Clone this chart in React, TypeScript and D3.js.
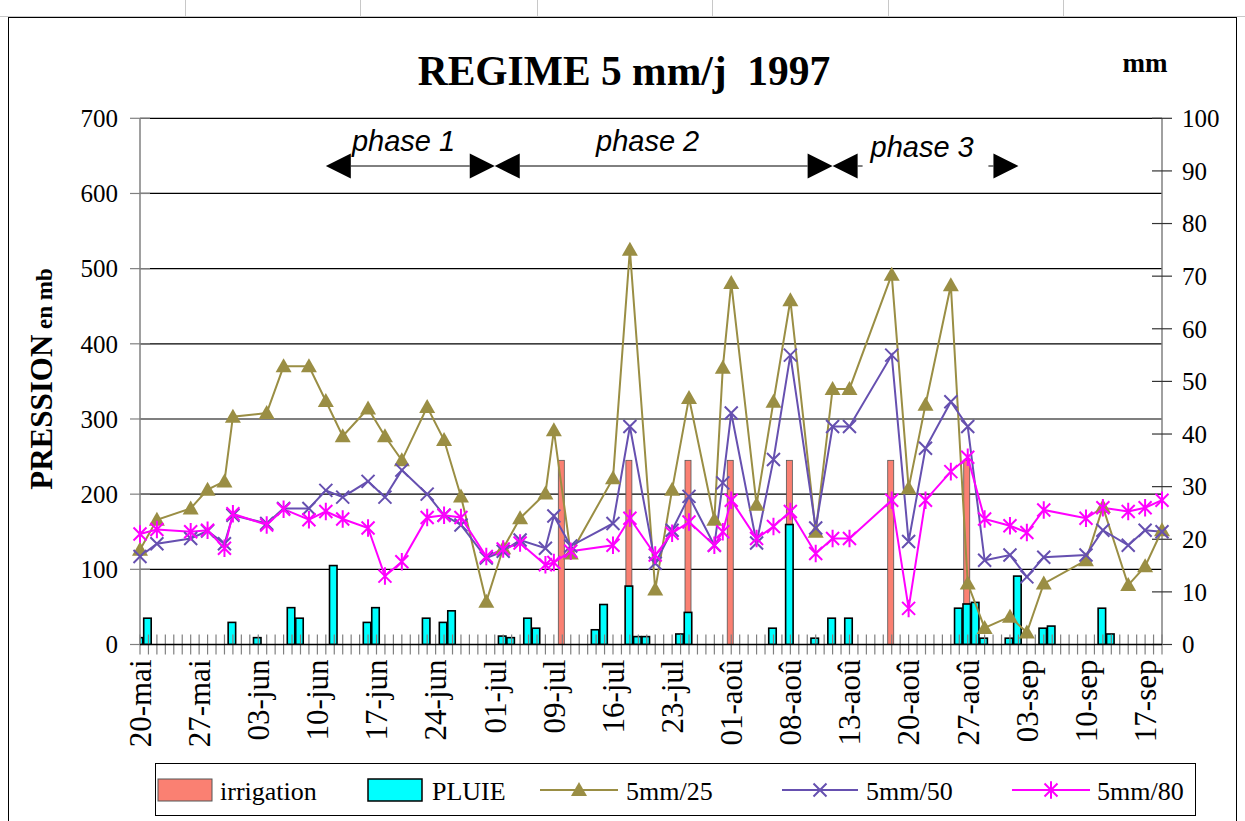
import React from "react";
import * as d3 from "d3";

// ---------- data ----------
const categoryCount = 122;
const labelEvery = 7;
const tickLabels = [
  "20-mai", "27-mai", "03-jun", "10-jun", "17-jun", "24-jun", "01-jul", "09-jul", "16-jul",
  "23-jul", "01-aoû", "08-aoû", "13-aoû", "20-aoû", "27-aoû", "03-sep", "10-sep", "17-sep",
];
const pressureTicks = [0, 100, 200, 300, 400, 500, 600, 700];
const mmTicks = [0, 10, 20, 30, 40, 50, 60, 70, 80, 90, 100];

// [category index, value]
const irrigation: [number, number][] = [
  [50, 35], [58, 35], [65, 35], [70, 35], [77, 35], [89, 35], [98, 35],
];
const pluie: [number, number][] = [
  [0, 1.3], [1, 5], [11, 4.2], [14, 1.3], [18, 7], [19, 5], [23, 15], [27, 4.2], [28, 7],
  [34, 5], [36, 4.2], [37, 6.4], [43, 1.6], [44, 1.3], [46, 5], [47, 3.1], [54, 2.8],
  [55, 7.6], [58, 11.1], [59, 1.5], [60, 1.5], [64, 2], [65, 6.1], [75, 3.1], [77, 22.8],
  [80, 1.2], [82, 5], [84, 5], [97, 6.9], [98, 7.7], [99, 8], [100, 1.2], [103, 1.2],
  [104, 13], [107, 3.1], [108, 3.5], [114, 6.9], [115, 2],
];
const s25: [number, number][] = [
  [0, 126], [2, 166], [6, 181], [8, 206], [10, 217], [11, 303], [15, 308], [17, 370],
  [20, 370], [22, 324], [24, 277], [27, 314], [29, 277], [31, 245], [34, 316], [36, 272],
  [38, 197], [41, 57], [43, 128], [45, 168], [48, 201], [49, 285], [51, 121], [56, 221],
  [58, 525], [61, 73], [63, 206], [65, 328], [68, 166], [69, 368], [70, 481], [73, 186],
  [75, 323], [77, 458], [80, 150], [82, 340], [84, 340], [89, 492], [91, 208], [93, 319],
  [96, 478], [98, 81], [100, 22], [103, 37], [105, 16], [107, 81], [112, 112], [114, 183],
  [117, 79], [119, 104], [121, 152],
];
const s50: [number, number][] = [
  [0, 117], [2, 134], [6, 141], [8, 151], [10, 134], [11, 172], [15, 161], [17, 181],
  [20, 181], [22, 205], [24, 196], [27, 217], [29, 196], [31, 232], [34, 200], [36, 172],
  [38, 159], [41, 115], [43, 124], [45, 139], [48, 128], [49, 171], [51, 131], [56, 161],
  [58, 290], [61, 108], [63, 152], [65, 197], [68, 132], [69, 215], [70, 308], [73, 135],
  [75, 246], [77, 385], [80, 155], [82, 290], [84, 290], [89, 385], [91, 137], [93, 261],
  [96, 323], [98, 290], [100, 112], [103, 119], [105, 90], [107, 116], [112, 119],
  [114, 152], [117, 132], [119, 152], [121, 150],
];
const s80: [number, number][] = [
  [0, 147], [2, 153], [6, 150], [8, 152], [10, 128], [11, 174], [15, 159], [17, 180],
  [20, 166], [22, 177], [24, 167], [27, 155], [29, 91], [31, 110], [34, 169], [36, 172],
  [38, 169], [41, 117], [43, 127], [45, 135], [48, 106], [49, 109], [51, 124], [56, 132],
  [58, 168], [61, 119], [63, 148], [65, 163], [68, 132], [69, 150], [70, 192], [73, 141],
  [75, 157], [77, 177], [80, 121], [82, 141], [84, 141], [89, 192], [91, 48], [93, 192],
  [96, 230], [98, 249], [100, 167], [103, 158], [105, 149], [107, 179], [112, 168],
  [114, 182], [117, 177], [119, 182], [121, 192],
];
const phases = [
  { label: "phase 1", from: 22, to: 42, textAt: 31.2, stub: false },
  { label: "phase 2", from: 42, to: 82, textAt: 60.1, stub: false },
  { label: "phase 3", from: 82, to: 104, textAt: 92.6, stub: true },
];

// ---------- style ----------
const C25 = "#9A8E44";
const C50 = "#6650B0";
const C80 = "#FF00FF";
const CIRR = "#FA8072";
const CPLUIE = "#00FFFF";
const SERIF = "'Liberation Serif', 'Times New Roman', serif";
const SANS = "'Liberation Sans', Arial, sans-serif";

function Triangle({ cx, cy, s = 8 }: { cx: number; cy: number; s?: number }) {
  return (
    <path
      d={`M${cx},${cy - s} L${cx + s},${cy + s * 0.75} L${cx - s},${cy + s * 0.75} Z`}
      fill={C25}
    />
  );
}
function Cross({ cx, cy, s = 6.5 }: { cx: number; cy: number; s?: number }) {
  return (
    <path
      d={`M${cx - s},${cy - s} L${cx + s},${cy + s} M${cx - s},${cy + s} L${cx + s},${cy - s}`}
      stroke={C50}
      strokeWidth={2}
    />
  );
}
function Star({ cx, cy, s = 6.5 }: { cx: number; cy: number; s?: number }) {
  return (
    <path
      d={`M${cx - s},${cy - s} L${cx + s},${cy + s} M${cx - s},${cy + s} L${cx + s},${cy - s} M${cx},${cy - s * 1.35} L${cx},${cy + s * 1.35}`}
      stroke={C80}
      strokeWidth={2}
    />
  );
}

export default function App() {
  const W = 1245;
  const H = 821;
  const left = 140;
  const right = 1162;
  const top = 118.3;
  const bottom = 644.5;

  const x = d3.scaleLinear().domain([0, categoryCount - 1]).range([left, right]);
  const yP = d3.scaleLinear().domain([0, 700]).range([bottom, top]);
  const yM = d3.scaleLinear().domain([0, 100]).range([bottom, top]);
  const line = d3
    .line<[number, number]>()
    .x((d) => x(d[0]))
    .y((d) => yP(d[1]));

  const barOffset = -1;
  const wPluie = 7.5;
  const wIrr = 6;
  const arrowY = 166;
  const head = 25;
  const hh = 12.5;

  return (
    <svg
      width={W}
      height={H}
      style={{ position: "absolute", left: 0, top: 0, background: "#fff" }}
      fontFamily={SERIF}
    >
      <defs>
        <clipPath id="plotclip">
          <rect x={left} y={top - 20} width={right - left} height={bottom - top + 20} />
        </clipPath>
      </defs>
      <rect x={0} y={0} width={W} height={H} fill="#fff" />
      {/* spreadsheet frame */}
      <line x1={0} x2={W} y1={16.5} y2={16.5} stroke="#c8c8c8" />
      {[185, 360, 537, 712, 888, 1063].map((cx) => (
        <line key={cx} x1={cx + 0.5} x2={cx + 0.5} y1={0} y2={16} stroke="#c8c8c8" />
      ))}
      <rect x={8.5} y={17.5} width={1228} height={H} fill="none" stroke="#000" />

      {/* title */}
      <text x={624} y={85} textAnchor="middle" fontWeight="bold" fontSize={41.5} xmlSpace="preserve">
        REGIME 5 mm/j  1997
      </text>
      <text x={1145} y={72} textAnchor="middle" fontWeight="bold" fontSize={27}>
        mm
      </text>

      {/* gridlines */}
      {pressureTicks.slice(1).map((t) => (
        <line key={t} x1={left} x2={right} y1={yP(t)} y2={yP(t)} stroke="#000" strokeWidth={1.2} />
      ))}

      {/* bars */}
      <g clipPath="url(#plotclip)">
        {irrigation.map(([k, v]) => (
          <rect
            key={"i" + k}
            x={x(k) + barOffset - wIrr / 2}
            y={yM(v)}
            width={wIrr}
            height={yM(0) - yM(v)}
            fill={CIRR}
            stroke="#555"
            strokeWidth={0.8}
          />
        ))}
        {pluie.map(([k, v]) => (
          <rect
            key={"p" + k}
            x={x(k) + barOffset - wPluie / 2}
            y={yM(v)}
            width={wPluie}
            height={yM(0) - yM(v)}
            fill={CPLUIE}
            stroke="#000"
            strokeWidth={1.6}
          />
        ))}
      </g>

      {/* axes */}
      <line x1={left} x2={left} y1={top} y2={bottom} stroke="#808080" strokeWidth={1.5} />
      <line x1={right} x2={right} y1={top} y2={bottom} stroke="#808080" strokeWidth={1.5} />
      {pressureTicks.map((t) => (
        <g key={"lp" + t}>
          <line x1={left - 10} x2={left + 10} y1={yP(t)} y2={yP(t)} stroke="#808080" strokeWidth={1.2} />
          <text x={left - 22} y={yP(t)} dy="0.35em" textAnchor="end" fontSize={25}>
            {t}
          </text>
        </g>
      ))}
      {mmTicks.map((t) => (
        <g key={"rm" + t}>
          <line x1={right - 10} x2={right + 10} y1={yM(t)} y2={yM(t)} stroke="#333" strokeWidth={1.2} />
          <text x={right + 20} y={yM(t)} dy="0.35em" textAnchor="start" fontSize={25}>
            {t}
          </text>
        </g>
      ))}
      {d3.range(categoryCount).map((k) => (
        <line key={"xt" + k} x1={x(k)} x2={x(k)} y1={bottom - 10} y2={bottom + 10} stroke="#808080" strokeWidth={1.2} />
      ))}
      <line x1={left} x2={right} y1={bottom} y2={bottom} stroke="#000" strokeWidth={1.3} />
      {tickLabels.map((lab, i) => {
        const px = x(i * labelEvery);
        return (
          <text
            key={lab}
            transform={`translate(${px},${bottom + 15}) rotate(-90)`}
            textAnchor="end"
            dy="0.35em"
            fontSize={31}
          >
            {lab}
          </text>
        );
      })}

      {/* y title */}
      <text
        transform={`translate(46,379) rotate(-90)`}
        textAnchor="middle"
        fontWeight="bold"
        dy="0.35em"
      >
        <tspan fontSize={31}>PRESSION</tspan>
        <tspan fontSize={23}> en mb</tspan>
      </text>

      {/* lines */}
      <path d={line(s25) || ""} fill="none" stroke={C25} strokeWidth={2} />
      <path d={line(s50) || ""} fill="none" stroke={C50} strokeWidth={2} />
      <path d={line(s80) || ""} fill="none" stroke={C80} strokeWidth={2} />
      {s25.map(([k, v]) => (
        <Triangle key={"t" + k} cx={x(k)} cy={yP(v)} />
      ))}
      {s50.map(([k, v]) => (
        <Cross key={"c" + k} cx={x(k)} cy={yP(v)} />
      ))}
      {s80.map(([k, v]) => (
        <Star key={"s" + k} cx={x(k)} cy={yP(v)} />
      ))}

      {/* phases */}
      {phases.map((p) => {
        const x0 = x(p.from);
        const x1 = x(p.to);
        return (
          <g key={p.label}>
            {p.stub ? (
              <>
                <line x1={x0 + head} x2={x0 + head + 5} y1={arrowY} y2={arrowY} stroke="#000" />
                <line x1={x1 - head - 5} x2={x1 - head} y1={arrowY} y2={arrowY} stroke="#000" />
              </>
            ) : (
              <line x1={x0 + head} x2={x1 - head} y1={arrowY} y2={arrowY} stroke="#000" />
            )}
            <path d={`M${x0},${arrowY} L${x0 + head},${arrowY - hh} L${x0 + head},${arrowY + hh} Z`} fill="#000" />
            <path d={`M${x1},${arrowY} L${x1 - head},${arrowY - hh} L${x1 - head},${arrowY + hh} Z`} fill="#000" />
            <text
              x={x(p.textAt)}
              y={p.stub ? 157 : 151}
              textAnchor="middle"
              fontFamily={SANS}
              fontStyle="italic"
              fontSize={29}
            >
              {p.label}
            </text>
          </g>
        );
      })}

      {/* legend */}
      <g>
        <rect x={155.5} y={763.5} width={1040} height={52} fill="#fff" stroke="#000" />
        <rect x={158} y={779} width={54} height={22} fill={CIRR} stroke="#555" />
        <text x={220} y={800} fontSize={26}>irrigation</text>
        <rect x={368} y={779} width={54} height={22} fill={CPLUIE} stroke="#000" strokeWidth={1.5} />
        <text x={432} y={800} fontSize={26}>PLUIE</text>
        <line x1={540} x2={618} y1={790} y2={790} stroke={C25} strokeWidth={2} />
        <Triangle cx={579} cy={790} />
        <text x={626} y={800} fontSize={26}>5mm/25</text>
        <line x1={782} x2={858} y1={790} y2={790} stroke={C50} strokeWidth={2} />
        <Cross cx={820} cy={790} />
        <text x={866} y={800} fontSize={26}>5mm/50</text>
        <line x1={1012} x2={1090} y1={790} y2={790} stroke={C80} strokeWidth={2} />
        <Star cx={1051} cy={790} />
        <text x={1097} y={800} fontSize={26}>5mm/80</text>
      </g>
    </svg>
  );
}
